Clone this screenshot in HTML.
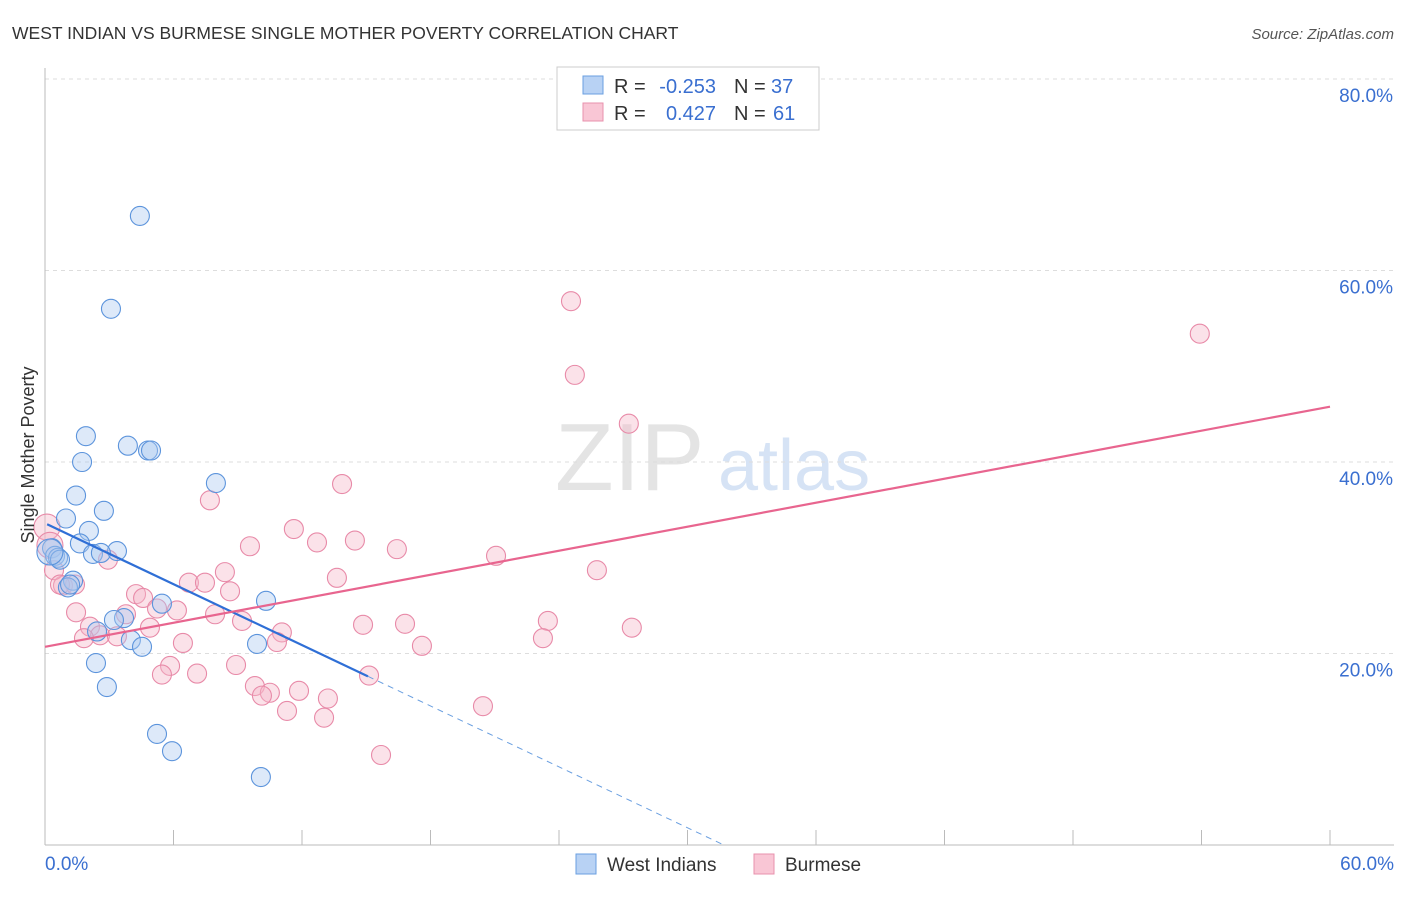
<!DOCTYPE html>
<html><head><meta charset="utf-8">
<style>
body{margin:0;background:#fff;font-family:"Liberation Sans",sans-serif;}
svg text{font-family:"Liberation Sans",sans-serif;}
</style></head>
<body>
<svg id="chart" width="1406" height="892" xmlns="http://www.w3.org/2000/svg">
<text x="12" y="39" font-size="17.5" fill="#333">WEST INDIAN VS BURMESE SINGLE MOTHER POVERTY CORRELATION CHART</text>
<text x="1394" y="39" font-size="15" fill="#555" font-style="italic" text-anchor="end">Source: ZipAtlas.com</text>
<g>
<text x="555" y="490" font-size="96" fill="#e4e4e4" font-family="Liberation Serif">ZIP</text>
<text x="718" y="490" font-size="72" fill="#d6e3f5">atlas</text>
</g>
<g id="grid"></g><g id="axes"></g><g id="marks"></g>
<text transform="translate(34,455) rotate(-90)" font-size="18" fill="#333" text-anchor="middle">Single Mother Poverty</text>
<g>
<rect x="557" y="67" width="262" height="63" fill="#fff" stroke="#ccc"/>
<rect x="583" y="76" width="20" height="18" fill="#b8d2f4" stroke="#6a9fe0"/>
<rect x="583" y="103" width="20" height="18" fill="#f9c6d5" stroke="#e891ad"/>
<text x="614" y="93" font-size="20" fill="#333">R =</text>
<text x="716" y="93" font-size="20" fill="#3a6fd0" text-anchor="end">-0.253</text>
<text x="734" y="93" font-size="20" fill="#333">N =</text>
<text x="771" y="93" font-size="20" fill="#3a6fd0">37</text>
<text x="614" y="120" font-size="20" fill="#333">R =</text>
<text x="716" y="120" font-size="20" fill="#3a6fd0" text-anchor="end">0.427</text>
<text x="734" y="120" font-size="20" fill="#333">N =</text>
<text x="773" y="120" font-size="20" fill="#3a6fd0">61</text>
</g>
<g>
<rect x="576" y="854" width="20" height="20" fill="#b8d2f4" stroke="#6a9fe0"/>
<text x="607" y="871" font-size="19" fill="#333">West Indians</text>
<rect x="754" y="854" width="20" height="20" fill="#f9c6d5" stroke="#e891ad"/>
<text x="785" y="871" font-size="19" fill="#333">Burmese</text>
</g>
</svg>
<script>
const blueX=[4.43,3.08,1.91,1.73,3.87,4.81,4.95,1.45,7.98,2.75,0.98,2.05,1.63,2.24,3.36,2.61,0.33,0.47,0.61,0.70,1.31,1.07,1.17,10.32,5.46,3.69,3.22,2.43,4.01,4.53,9.90,2.38,2.89,5.23,5.93,10.08,0.23];
const blueY=[65.7,56.0,42.7,40.0,41.7,41.2,41.2,36.5,37.8,34.9,34.1,32.8,31.5,30.4,30.7,30.5,31.0,30.2,30.0,29.8,27.6,26.9,27.2,25.5,25.2,23.7,23.5,22.3,21.4,20.7,21.0,19.0,16.5,11.6,9.8,7.1,30.6];
const pinkX=[24.56,53.92,24.74,27.26,7.70,13.87,11.62,9.57,12.70,14.47,16.43,21.06,2.94,25.77,13.63,6.72,7.47,8.40,8.64,0.84,1.40,4.25,4.58,5.23,6.16,7.94,3.78,1.45,9.20,23.48,16.81,14.85,2.10,4.90,11.06,2.57,3.36,23.25,27.40,10.83,6.44,1.82,17.60,8.92,5.84,7.10,5.46,15.13,9.80,10.50,10.13,11.86,13.21,11.30,13.03,20.45,15.69,0.09,0.23,0.42,0.70];
const pinkY=[56.8,53.4,49.1,44.0,36.0,37.7,33.0,31.2,31.6,31.8,30.9,30.2,29.8,28.7,27.9,27.4,27.4,28.5,26.5,27.1,27.2,26.2,25.8,24.7,24.5,24.1,24.1,24.3,23.4,23.4,23.1,23.0,22.8,22.7,22.2,21.9,21.8,21.6,22.7,21.2,21.1,21.6,20.8,18.8,18.7,17.9,17.8,17.7,16.6,15.9,15.6,16.1,15.3,14.0,13.3,14.5,9.4,33.2,31.3,28.7,27.2];
const blueTrend=[33.6,-1.06];
const pinkTrend=[20.7,0.418];
const yTicks=[20,40,60,80];
const yTickLabels=["20.0%","40.0%","60.0%","80.0%"];
const xTickLabels=["0.0%","60.0%"];
const NS="http://www.w3.org/2000/svg";
const X=v=>45+v*(1285/60);
const Y=v=>845-v*9.575;
function mk(tag,attrs,parent){const e=document.createElementNS(NS,tag);for(const k in attrs)e.setAttribute(k,attrs[k]);parent.appendChild(e);return e;}
const grid=document.getElementById('grid'),axes=document.getElementById('axes'),marks=document.getElementById('marks');
yTicks.forEach((t,i)=>{
 const l=mk('line',{x1:45,x2:1394,y1:Y(t),y2:Y(t),stroke:'#ddd','stroke-dasharray':'4,4'},grid);
 
 
 const tx=mk('text',{x:1393,y:Y(t)+23,'font-size':19,fill:'#3a6fd0','text-anchor':'end'},axes);
 tx.textContent=yTickLabels[i];
 
 
});
const ax=mk('line',{x1:45,x2:1394,y1:845,y2:845,stroke:'#bbb'},axes);


const ay=mk('line',{x1:45,x2:45,y1:68,y2:845,stroke:'#bbb'},axes);


for(let i=0;i<=10;i++){const t=mk('line',{x1:X(i*6),x2:X(i*6),y1:830,y2:845,stroke:'#bbb'},axes);
 
 }
[[0,'start',45],[60,'end',1394]].forEach((d,i)=>{const t=mk('text',{x:d[2],y:870,'font-size':19,fill:'#3a6fd0','text-anchor':d[1]},axes);t.textContent=xTickLabels[i];
 
 });
function dots(xs,ys,fill,stroke,name){xs.forEach((x,i)=>{const c=mk('circle',{cx:X(x),cy:Y(ys[i]),r:(x<0.3?13:9.5),fill:fill,'fill-opacity':0.4,stroke:stroke,'stroke-width':1.1},marks);
 
 });}
dots(pinkX,pinkY,'#f6b6c8','#e88aa8','burmese-point');
dots(blueX,blueY,'#a9c8f0','#5c94dc','west-indian-point');
const bEnd=15.08, bZero=-blueTrend[0]/blueTrend[1];
const b1=mk('line',{x1:X(0.1),y1:Y(blueTrend[0]+blueTrend[1]*0.1),x2:X(bEnd),y2:Y(blueTrend[0]+blueTrend[1]*bEnd),stroke:'#2f6fd6','stroke-width':2.2},marks);


const b2=mk('line',{x1:X(bEnd),y1:Y(blueTrend[0]+blueTrend[1]*bEnd),x2:X(bZero),y2:Y(0),stroke:'#6a9fe0','stroke-width':1,'stroke-dasharray':'6,5'},marks);


const p1=mk('line',{x1:X(0),y1:Y(pinkTrend[0]),x2:X(60),y2:Y(pinkTrend[0]+pinkTrend[1]*60),stroke:'#e8658f','stroke-width':2.2},marks);


</script>
</body></html>
